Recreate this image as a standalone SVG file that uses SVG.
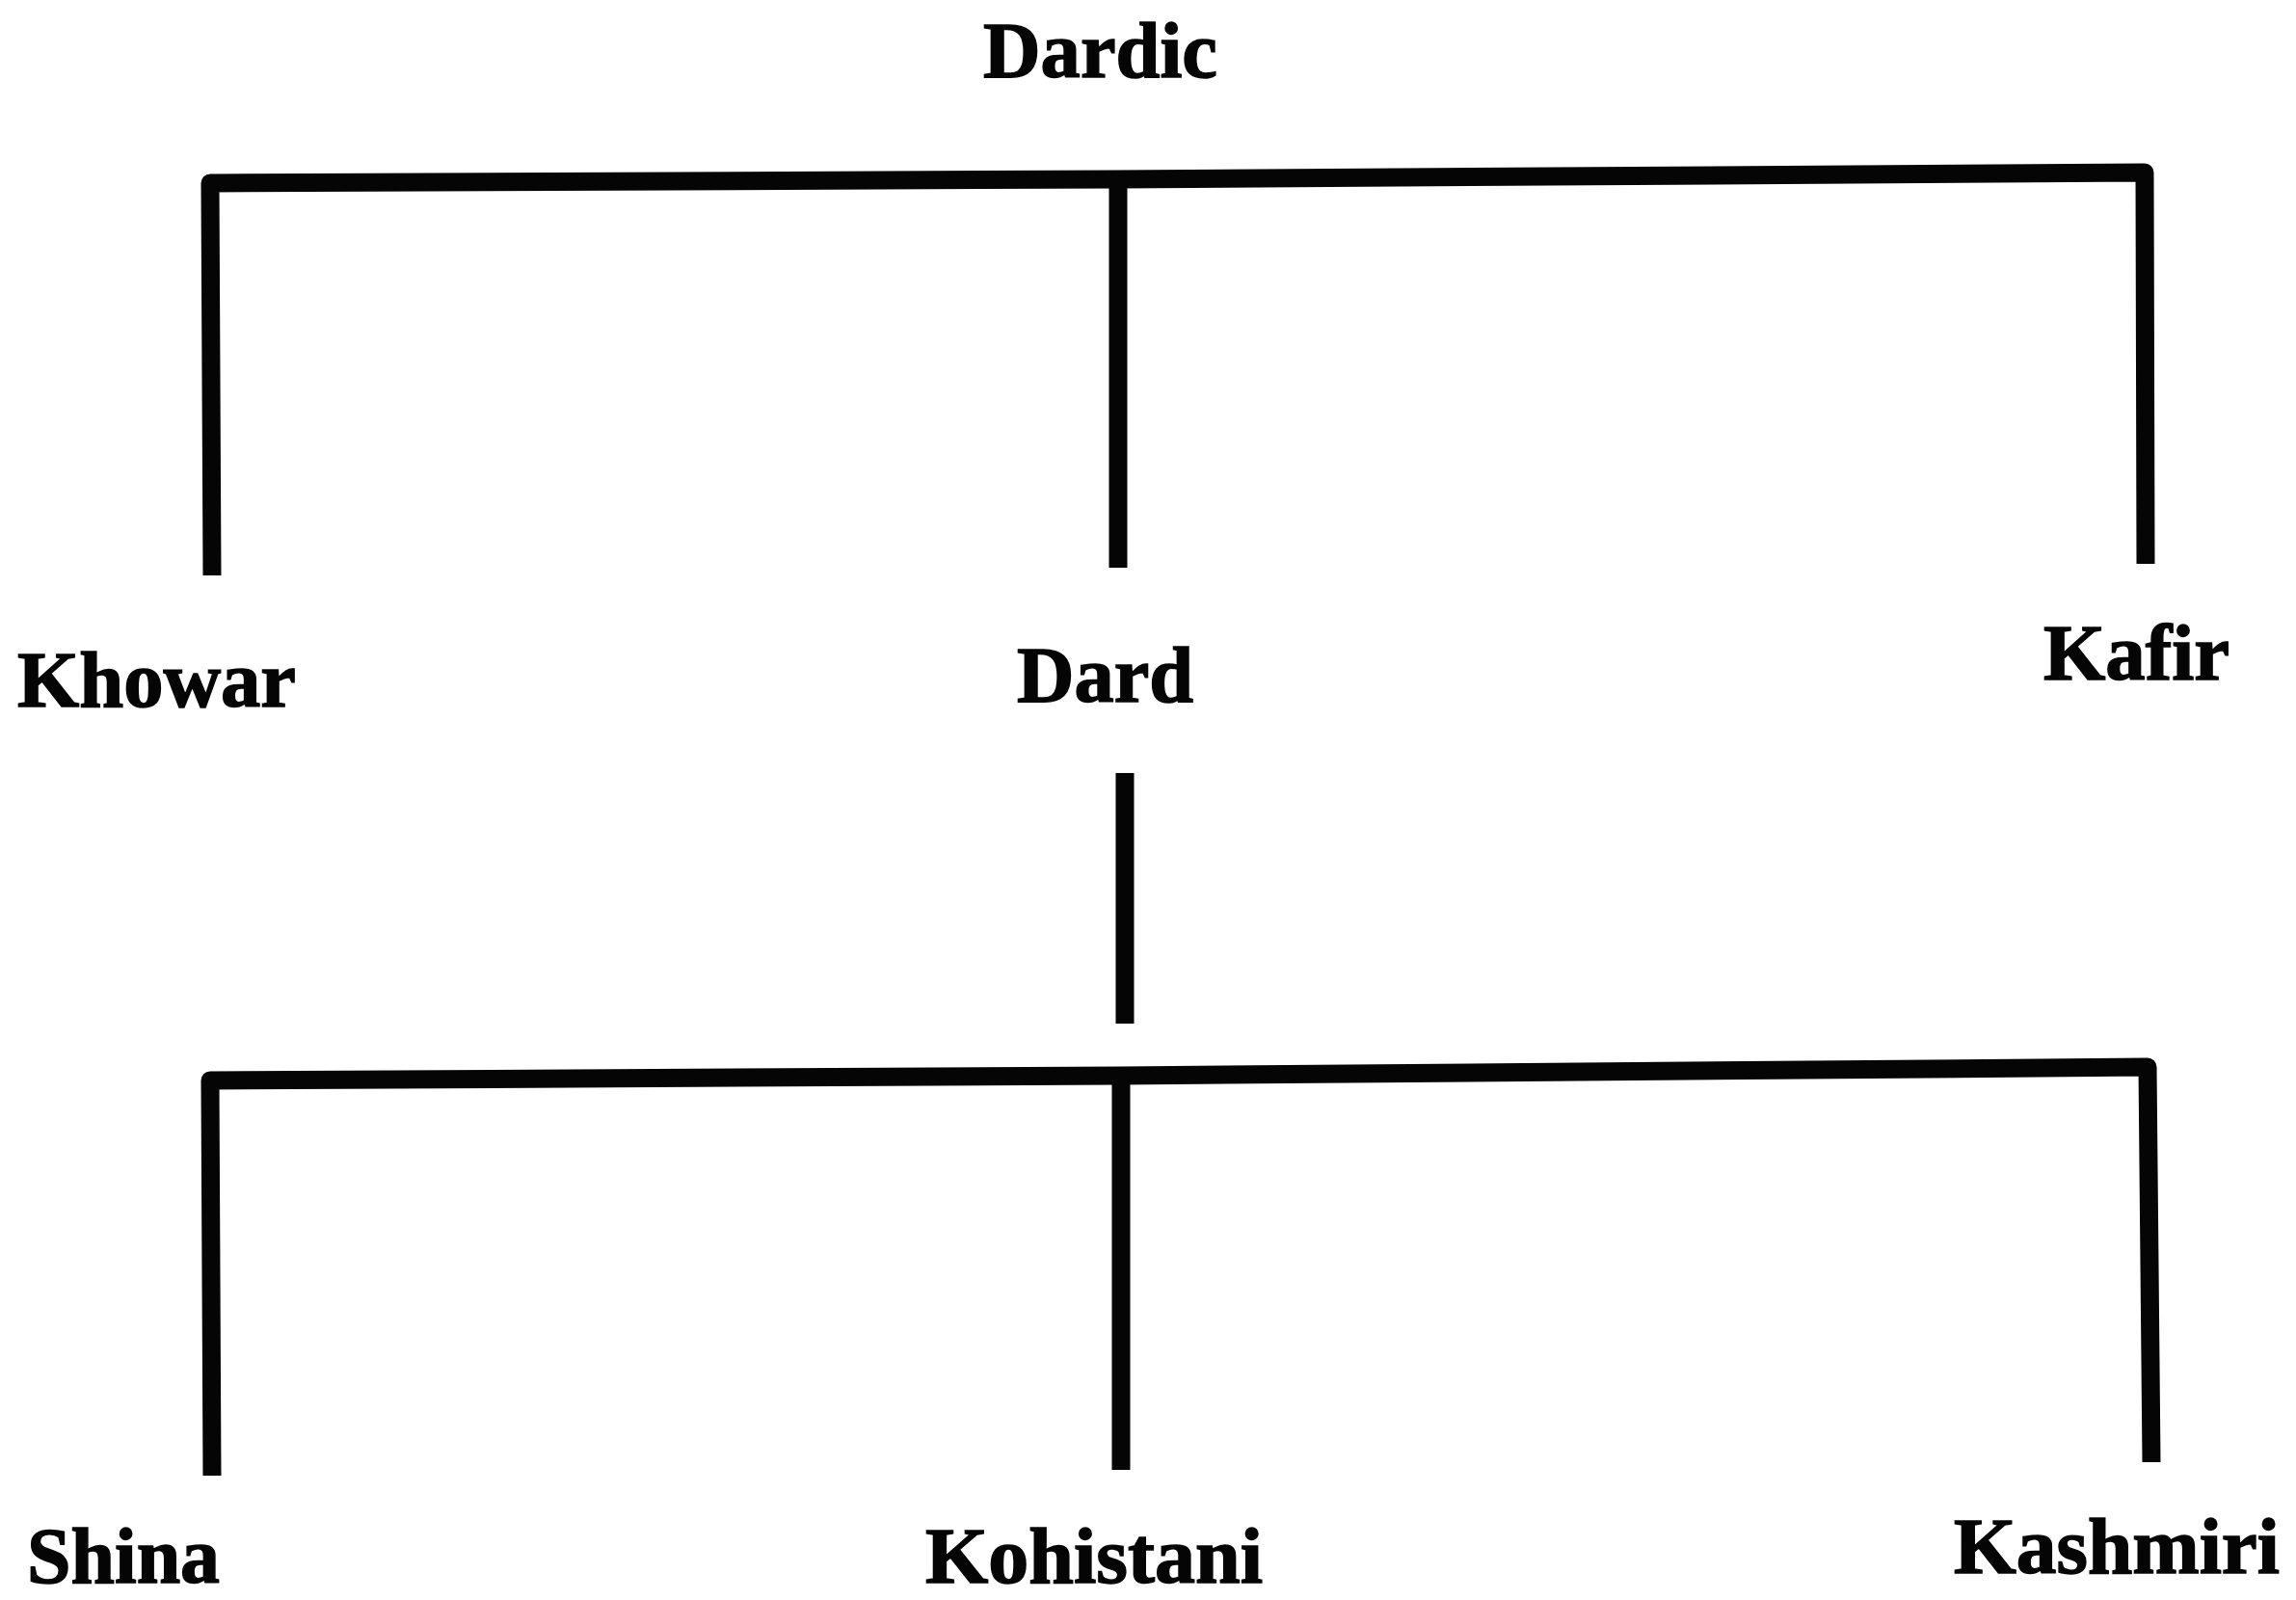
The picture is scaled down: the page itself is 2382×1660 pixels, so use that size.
<svg xmlns="http://www.w3.org/2000/svg" width="2382" height="1660" viewBox="0 0 2382 1660">
  <style>
    .lbl { font-family: "Liberation Serif", "Times New Roman", serif; font-weight: bold; font-size: 83px; fill: #050505; stroke: #050505; stroke-width: 1.5px; }
    .edge { fill: none; stroke: #050505; stroke-width: 19; stroke-linejoin: round; stroke-linecap: butt; }
  </style>
  <rect x="0" y="0" width="2382" height="1660" fill="#ffffff"/>
  <g id="connectors">
    <polyline class="edge" points="220,597 218,190 1160,186 2225,179 2226,585"/>
    <line class="edge" x1="1160" y1="186" x2="1160" y2="589"/>
    <line class="edge" x1="1167" y1="802" x2="1167" y2="1062"/>
    <polyline class="edge" points="220,1531 218,1121 1162,1116 2228,1107 2232,1517"/>
    <line class="edge" x1="1163" y1="1116" x2="1163" y2="1525"/>
  </g>
  <g id="node-dardic"><text class="lbl" x="1020" y="80" textLength="243" lengthAdjust="spacingAndGlyphs">Dardic</text></g>
  <g id="node-khowar"><text class="lbl" x="18" y="733" textLength="289" lengthAdjust="spacingAndGlyphs">Khowar</text></g>
  <g id="node-dard"><text class="lbl" x="1055" y="728" textLength="183" lengthAdjust="spacingAndGlyphs">Dard</text></g>
  <g id="node-kafir"><text class="lbl" x="2120" y="705" textLength="193" lengthAdjust="spacingAndGlyphs">Kafir</text></g>
  <g id="node-shina"><text class="lbl" x="28" y="1642" textLength="200" lengthAdjust="spacingAndGlyphs">Shina</text></g>
  <g id="node-kohistani"><text class="lbl" x="960" y="1642" textLength="350" lengthAdjust="spacingAndGlyphs">Kohistani</text></g>
  <g id="node-kashmiri"><text class="lbl" x="2027" y="1632" textLength="338" lengthAdjust="spacingAndGlyphs">Kashmiri</text></g>
</svg>
